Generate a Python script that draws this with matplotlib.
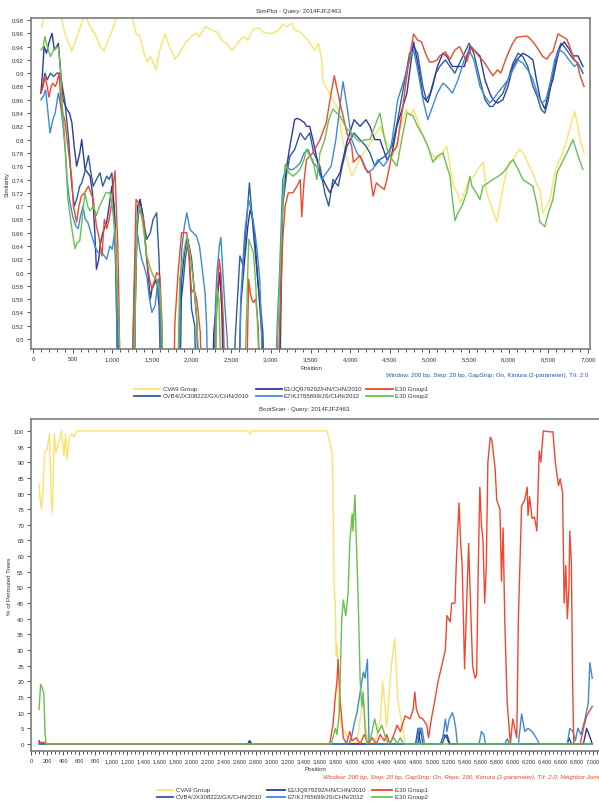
#############################################
##  SimPlot / BootScan  query 2014FJFZ463
#############################################
import matplotlib
matplotlib.use("Agg")
import matplotlib.pyplot as plt
from matplotlib.lines import Line2D
from matplotlib.ticker import MultipleLocator, FuncFormatter

plt.rcParams['font.family'] = ['Liberation Sans', 'DejaVu Sans']

seriesNames = ['CVA9 Group', 'CVB4/JX308222/GX/CHN/2010', 'E1/JQ979292/HN/CHN/2010',
               'E7/KJ765699/JS/CHN/2012', 'E30 Group1', 'E30 Group2']
seriesColors = ['#FBE26A', '#2E5E98', '#2F3A9A', '#3D8AD6', '#F0482E', '#6BBF4F']

# ---------------- SimPlot (similarity) ----------------
cva9SimPos = [110, 150, 200, 260, 340, 400, 450, 490, 540, 600, 655, 700, 750, 800, 850, 895, 950, 1000, 1070, 1150,
              1250, 1300, 1350, 1400, 1440, 1480, 1520, 1550, 1600, 1665, 1720, 1790, 1850, 1920, 2000, 2060, 2100,
              2170, 2250, 2320, 2380, 2440, 2510, 2580, 2650, 2710, 2775, 2850, 2900, 2960, 3030, 3100, 3150, 3200,
              3260, 3300, 3370, 3420, 3470, 3555, 3600, 3640, 3660, 3720, 3780, 3850, 3880, 3910, 3960, 4020, 4080,
              4140, 4210, 4280, 4330, 4380, 4440, 4490, 4540, 4600, 4660, 4710, 4760, 4800, 4860, 4920, 4980, 5040,
              5100, 5160, 5220, 5260, 5300, 5350, 5390, 5440, 5500, 5560, 5637, 5680, 5720, 5780, 5850, 5900, 5950,
              6000, 6060, 6100, 6140, 6200, 6260, 6305, 6360, 6393, 6430, 6480, 6520, 6580, 6608, 6680, 6734, 6800,
              6835, 6870, 6900, 6950]
cva9SimVal = [0.97, 0.99, 0.995, 0.99, 0.995, 0.96, 0.945, 0.933, 0.95, 0.97, 0.99, 0.975, 0.965, 0.955, 0.94, 0.933,
              0.95, 0.965, 0.99, 0.995, 0.985, 0.96, 0.955, 0.93, 0.917, 0.925, 0.915, 0.905, 0.935, 0.959, 0.94, 0.921,
              0.93, 0.945, 0.956, 0.96, 0.955, 0.97, 0.965, 0.962, 0.95, 0.945, 0.934, 0.945, 0.955, 0.95, 0.966, 0.968,
              0.962, 0.96, 0.96, 0.965, 0.974, 0.97, 0.975, 0.965, 0.962, 0.955, 0.95, 0.934, 0.945, 0.92, 0.887, 0.874,
              0.86, 0.846, 0.82, 0.797, 0.77, 0.745, 0.76, 0.775, 0.786, 0.80, 0.81, 0.82, 0.80, 0.79, 0.776, 0.80,
              0.83, 0.846, 0.835, 0.846, 0.825, 0.806, 0.79, 0.776, 0.77, 0.78, 0.79, 0.76, 0.73, 0.72, 0.705, 0.72,
              0.74, 0.745, 0.76, 0.766, 0.72, 0.70, 0.676, 0.71, 0.74, 0.766, 0.77, 0.78, 0.786, 0.776, 0.76, 0.75,
              0.73, 0.725, 0.69, 0.70, 0.71, 0.75, 0.76, 0.78, 0.80, 0.83, 0.842, 0.82, 0.80, 0.78]

cvb4SimPos = [100, 130, 150, 180, 220, 260, 300, 340, 370, 400, 450, 480, 490, 520, 550, 590, 615, 650, 700, 730, 760,
              800, 845, 880, 930, 960, 995, 1010, 1035, 1060, 1090, 1245, 1265, 1300, 1350, 1390, 1435, 1480, 1515,
              1560, 1590, 1615, 1640, 1830, 1850, 1890, 1920, 1960, 1980, 2000, 2040, 2060, 2280, 2300, 2330, 2360,
              2385, 2400, 2530, 2550, 2610, 2650, 2690, 2730, 2760, 2780, 2810, 2840, 2870, 2900, 2920, 3110, 3135,
              3150, 3200, 3240, 3300, 3370, 3430, 3490, 3540, 3619, 3680, 3730, 3783, 3850, 3900, 3960, 4050, 4124,
              4200, 4250, 4310, 4376, 4440, 4530, 4600, 4690, 4750, 4800, 4850, 4918, 4960, 5010, 5080, 5130, 5200,
              5260, 5320, 5380, 5440, 5500, 5560, 5637, 5700, 5760, 5801, 5860, 5927, 5990, 6053, 6120, 6179, 6240,
              6305, 6360, 6410, 6456, 6500, 6557, 6608, 6660, 6700, 6760, 6820, 6873, 6936]
cvb4SimVal = [0.87, 0.885, 0.90, 0.89, 0.90, 0.895, 0.90, 0.90, 0.88, 0.86, 0.80, 0.745, 0.73, 0.70, 0.71, 0.73, 0.735,
              0.75, 0.776, 0.75, 0.73, 0.74, 0.75, 0.73, 0.745, 0.74, 0.75, 0.72, 0.68, 0.58, 0.40, 0.40, 0.52, 0.65,
              0.71, 0.68, 0.65, 0.66, 0.68, 0.69, 0.62, 0.52, 0.40, 0.40, 0.54, 0.58, 0.62, 0.65, 0.60, 0.545, 0.52,
              0.40, 0.40, 0.53, 0.57, 0.60, 0.54, 0.40, 0.40, 0.50, 0.625, 0.61, 0.67, 0.735, 0.69, 0.66, 0.62, 0.58,
              0.55, 0.51, 0.40, 0.40, 0.60, 0.70, 0.75, 0.775, 0.785, 0.81, 0.80, 0.81, 0.78, 0.76, 0.72, 0.70, 0.74,
              0.73, 0.76, 0.79, 0.81, 0.80, 0.79, 0.78, 0.76, 0.77, 0.775, 0.79, 0.83, 0.89, 0.93, 0.94, 0.93, 0.88,
              0.86, 0.87, 0.90, 0.91, 0.92, 0.91, 0.90, 0.915, 0.93, 0.945, 0.93, 0.89, 0.86, 0.85, 0.85, 0.86, 0.87,
              0.89, 0.915, 0.93, 0.925, 0.91, 0.88, 0.865, 0.845, 0.84, 0.86, 0.90, 0.93, 0.945, 0.94, 0.93, 0.92,
              0.915, 0.90]

e1SimPos = [100, 120, 140, 170, 200, 240, 270, 300, 320, 350, 380, 425, 460, 490, 520, 550, 590, 615, 655, 690, 720,
            750, 780, 800, 830, 845, 880, 930, 960, 995, 1020, 1045, 1075, 1270, 1290, 1320, 1350, 1390, 1420, 1450,
            1480, 1500, 1560, 1590, 1620, 1850, 1875, 1910, 1940, 1970, 2000, 2030, 2065, 2090, 2260, 2280, 2320,
            2360, 2390, 2420, 2590, 2620, 2670, 2710, 2740, 2770, 2800, 2830, 2860, 2890, 2910, 3100, 3130, 3150,
            3200, 3240, 3300, 3330, 3370, 3420, 3450, 3490, 3530, 3619, 3700, 3745, 3800, 3871, 3960, 4050, 4124,
            4200, 4250, 4310, 4376, 4464, 4530, 4590, 4716, 4760, 4800, 4860, 4918, 4980, 5040, 5100, 5170, 5220,
            5290, 5360, 5440, 5510, 5560, 5637, 5700, 5760, 5801, 5860, 5927, 5990, 6053, 6100, 6179, 6240, 6305,
            6350, 6400, 6456, 6500, 6557, 6608, 6650, 6700, 6770, 6810, 6873, 6936]
e1SimVal = [0.87, 0.90, 0.94, 0.93, 0.945, 0.96, 0.935, 0.94, 0.945, 0.90, 0.86, 0.846, 0.84, 0.826, 0.79, 0.76, 0.78,
            0.80, 0.756, 0.75, 0.745, 0.72, 0.66, 0.605, 0.62, 0.64, 0.66, 0.676, 0.70, 0.73, 0.70, 0.60, 0.40, 0.40,
            0.55, 0.70, 0.71, 0.685, 0.64, 0.60, 0.56, 0.575, 0.59, 0.55, 0.40, 0.40, 0.59, 0.63, 0.65, 0.64, 0.62,
            0.58, 0.53, 0.40, 0.40, 0.51, 0.56, 0.60, 0.52, 0.40, 0.40, 0.55, 0.62, 0.67, 0.695, 0.68, 0.65, 0.60,
            0.55, 0.50, 0.40, 0.40, 0.62, 0.715, 0.76, 0.79, 0.83, 0.832, 0.83, 0.826, 0.82, 0.82, 0.80, 0.75, 0.73,
            0.72, 0.735, 0.75, 0.797, 0.83, 0.82, 0.83, 0.82, 0.80, 0.80, 0.77, 0.78, 0.82, 0.87, 0.91, 0.947, 0.91,
            0.865, 0.856, 0.88, 0.91, 0.93, 0.925, 0.91, 0.91, 0.91, 0.94, 0.935, 0.926, 0.89, 0.87, 0.86, 0.855,
            0.86, 0.88, 0.91, 0.92, 0.93, 0.926, 0.92, 0.89, 0.86, 0.846, 0.87, 0.89, 0.92, 0.94, 0.947, 0.935,
            0.926, 0.926, 0.91]

e7SimPos = [100, 130, 160, 190, 215, 250, 280, 320, 350, 380, 410, 430, 460, 500, 540, 570, 600, 630, 660, 690, 730,
            780, 820, 870, 930, 970, 1000, 1035, 1050, 1070, 1280, 1295, 1310, 1340, 1370, 1400, 1435, 1470, 1500,
            1540, 1580, 1600, 1620, 1840, 1860, 1875, 1910, 1940, 1980, 2020, 2060, 2100, 2140, 2170, 2190, 2210,
            2290, 2300, 2320, 2350, 2370, 2395, 2420, 2450, 2480, 2600, 2620, 2670, 2720, 2760, 2800, 2830, 2860,
            2880, 2900, 3050, 3080, 3110, 3150, 3200, 3240, 3280, 3330, 3370, 3420, 3470, 3530, 3580, 3640, 3700,
            3760, 3820, 3880, 3910, 3960, 4020, 4086, 4150, 4220, 4290, 4350, 4420, 4480, 4530, 4600, 4680, 4750,
            4800, 4860, 4918, 4980, 5040, 5100, 5170, 5220, 5290, 5360, 5440, 5500, 5560, 5637, 5700, 5760, 5801,
            5860, 5927, 5990, 6053, 6120, 6179, 6240, 6305, 6360, 6420, 6470, 6530, 6580, 6640, 6700, 6760, 6830,
            6873, 6936]
e7SimVal = [0.86, 0.865, 0.875, 0.84, 0.81, 0.83, 0.84, 0.87, 0.85, 0.82, 0.78, 0.74, 0.71, 0.685, 0.67, 0.666, 0.685,
            0.70, 0.68, 0.676, 0.66, 0.64, 0.63, 0.63, 0.62, 0.64, 0.635, 0.666, 0.59, 0.40, 0.40, 0.60, 0.665, 0.64,
            0.62, 0.61, 0.595, 0.56, 0.54, 0.55, 0.59, 0.55, 0.40, 0.40, 0.58, 0.635, 0.67, 0.69, 0.665, 0.66, 0.655,
            0.64, 0.60, 0.57, 0.52, 0.40, 0.40, 0.55, 0.60, 0.64, 0.653, 0.60, 0.55, 0.50, 0.40, 0.40, 0.56, 0.66,
            0.71, 0.69, 0.66, 0.63, 0.59, 0.52, 0.40, 0.40, 0.52, 0.60, 0.74, 0.76, 0.755, 0.755, 0.76, 0.765, 0.78,
            0.785, 0.765, 0.76, 0.74, 0.75, 0.76, 0.80, 0.86, 0.887, 0.85, 0.80, 0.78, 0.77, 0.75, 0.756, 0.77, 0.76,
            0.77, 0.80, 0.86, 0.89, 0.92, 0.935, 0.90, 0.86, 0.83, 0.85, 0.87, 0.885, 0.88, 0.87, 0.89, 0.92, 0.935,
            0.92, 0.88, 0.865, 0.855, 0.86, 0.87, 0.88, 0.89, 0.905, 0.92, 0.915, 0.905, 0.89, 0.87, 0.855, 0.86,
            0.89, 0.92, 0.935, 0.93, 0.92, 0.91, 0.915, 0.90]

e30g1SimPos = [100, 130, 150, 180, 200, 230, 250, 280, 300, 330, 345, 360, 400, 440, 490, 510, 550, 580, 610, 650,
               700, 760, 800, 830, 870, 900, 930, 960, 995, 1020, 1035, 1050, 1070, 1085, 1100, 1250, 1275, 1300,
               1330, 1350, 1390, 1435, 1470, 1500, 1560, 1600, 1625, 1645, 1770, 1790, 1830, 1875, 1940, 1970, 2000,
               2030, 2065, 2110, 2130, 2290, 2320, 2350, 2370, 2400, 2430, 2690, 2720, 2740, 2760, 2780, 2810, 2840,
               2870, 3080, 3120, 3150, 3180, 3220, 3280, 3330, 3370, 3390, 3420, 3450, 3530, 3620, 3700, 3760, 3800,
               3871, 3960, 4020, 4040, 4124, 4190, 4250, 4290, 4330, 4376, 4430, 4464, 4530, 4590, 4660, 4730, 4800,
               4850, 4900, 4950, 5000, 5044, 5100, 5130, 5200, 5260, 5322, 5380, 5420, 5470, 5530, 5560, 5620, 5680,
               5720, 5780, 5800, 5860, 5900, 5960, 6000, 6050, 6100, 6160, 6230, 6270, 6305, 6350, 6393, 6430, 6480,
               6530, 6557, 6600, 6620, 6680, 6734, 6780, 6830, 6860, 6900, 6950]
e30g1SimVal = [0.87, 0.88, 0.895, 0.88, 0.864, 0.88, 0.885, 0.88, 0.885, 0.90, 0.87, 0.846, 0.83, 0.79, 0.74, 0.70,
               0.676, 0.70, 0.715, 0.72, 0.73, 0.71, 0.67, 0.655, 0.625, 0.68, 0.666, 0.68, 0.706, 0.74, 0.753, 0.70,
               0.64, 0.55, 0.40, 0.40, 0.58, 0.71, 0.705, 0.69, 0.686, 0.62, 0.59, 0.575, 0.60, 0.595, 0.53, 0.40,
               0.40, 0.525, 0.60, 0.66, 0.66, 0.62, 0.57, 0.575, 0.56, 0.51, 0.40, 0.40, 0.56, 0.62, 0.60, 0.53, 0.40,
               0.40, 0.59, 0.57, 0.56, 0.555, 0.56, 0.52, 0.40, 0.40, 0.55, 0.65, 0.70, 0.72, 0.72, 0.73, 0.74, 0.684,
               0.74, 0.77, 0.78, 0.80, 0.826, 0.87, 0.896, 0.856, 0.81, 0.79, 0.766, 0.776, 0.756, 0.75, 0.715, 0.735,
               0.73, 0.725, 0.74, 0.78, 0.79, 0.846, 0.91, 0.959, 0.95, 0.947, 0.93, 0.917, 0.917, 0.92, 0.926, 0.932,
               0.921, 0.935, 0.94, 0.93, 0.917, 0.94, 0.935, 0.926, 0.918, 0.911, 0.90, 0.896, 0.905, 0.90, 0.92,
               0.932, 0.945, 0.954, 0.955, 0.956, 0.952, 0.947, 0.94, 0.932, 0.925, 0.921, 0.93, 0.932, 0.95, 0.959,
               0.955, 0.951, 0.936, 0.92, 0.917, 0.896, 0.88]

e30g2SimPos = [100, 130, 150, 180, 220, 260, 320, 350, 365, 400, 440, 490, 530, 560, 590, 620, 655, 690, 720, 760,
               800, 840, 880, 920, 970, 1000, 1035, 1060, 1090, 1110, 1260, 1290, 1310, 1340, 1370, 1400, 1435, 1470,
               1515, 1560, 1600, 1625, 1650, 1820, 1850, 1900, 1940, 1980, 2020, 2060, 2090, 2100, 2290, 2320, 2345,
               2365, 2380, 2660, 2700, 2720, 2750, 2780, 2810, 2840, 2860, 3060, 3100, 3150, 3180, 3230, 3280, 3330,
               3370, 3420, 3450, 3490, 3530, 3580, 3619, 3680, 3730, 3783, 3830, 3871, 3920, 3960, 4020, 4086, 4124,
               4190, 4250, 4310, 4376, 4420, 4464, 4530, 4590, 4650, 4716, 4792, 4850, 4918, 4980, 5044, 5100, 5170,
               5220, 5259, 5290, 5322, 5360, 5410, 5470, 5511, 5536, 5590, 5637, 5675, 5740, 5801, 5870, 5927, 5990,
               6053, 6120, 6179, 6240, 6305, 6360, 6393, 6456, 6500, 6557, 6608, 6670, 6734, 6810, 6873, 6936]
e30g2SimVal = [0.935, 0.94, 0.955, 0.94, 0.925, 0.935, 0.94, 0.90, 0.86, 0.80, 0.71, 0.666, 0.636, 0.645, 0.648, 0.68,
               0.72, 0.70, 0.693, 0.70, 0.686, 0.70, 0.71, 0.72, 0.72, 0.70, 0.66, 0.58, 0.50, 0.40, 0.40, 0.55, 0.676,
               0.70, 0.685, 0.66, 0.625, 0.61, 0.595, 0.59, 0.575, 0.52, 0.40, 0.40, 0.59, 0.63, 0.655, 0.63, 0.59,
               0.54, 0.47, 0.40, 0.40, 0.575, 0.56, 0.47, 0.40, 0.40, 0.56, 0.65, 0.64, 0.63, 0.58, 0.50, 0.40, 0.40,
               0.55, 0.70, 0.763, 0.75, 0.745, 0.75, 0.756, 0.77, 0.786, 0.775, 0.77, 0.74, 0.78, 0.80, 0.83, 0.846,
               0.84, 0.836, 0.825, 0.816, 0.81, 0.80, 0.797, 0.80, 0.80, 0.82, 0.84, 0.81, 0.786, 0.77, 0.76, 0.80,
               0.84, 0.836, 0.82, 0.806, 0.79, 0.766, 0.775, 0.78, 0.76, 0.745, 0.71, 0.678, 0.69, 0.70, 0.72, 0.745,
               0.73, 0.72, 0.71, 0.73, 0.735, 0.74, 0.745, 0.75, 0.76, 0.77, 0.755, 0.74, 0.735, 0.73, 0.70, 0.676,
               0.669, 0.69, 0.71, 0.75, 0.765, 0.78, 0.80, 0.776, 0.755]

# ---------------- BootScan (% of permuted trees) ----------------
cva9BootPos = [100, 115, 130, 150, 170, 200, 230, 250, 265, 290, 310, 340, 380, 410, 430, 450, 480, 510, 540, 570,
               2700, 2727, 2750, 3686, 3720, 3750, 3760, 3775, 3790, 3800, 3815, 3830, 3860, 3900, 3950, 4000, 4060,
               4100, 4140, 4170, 4200, 4250, 4300, 4350, 4380, 4430, 4490, 4530, 4570, 4620, 4640, 4660, 6990]
cva9BootVal = [83, 78, 75, 80.5, 93.6, 94, 99, 79, 74, 99, 93, 96, 100, 92, 99, 91, 98, 99, 98, 100,
               100, 99, 100, 100, 96.5, 93, 82, 50, 45, 28, 32, 12, 6, 4, 2, 0.5, 0,
               8, 15, 5, 1, 0, 2, 8, 20, 5.5, 25.5, 33.5, 14, 6, 3, 0, 0]

cvb4BootPos = [100, 2700, 2725, 2750, 4820, 4850, 4880, 5120, 5150, 5180, 5220, 6990]
cvb4BootVal = [0, 0, 1, 0, 0, 5, 0, 0, 2, 3, 0, 0]

e1BootPos = [100, 120, 2700, 2720, 2740, 4790, 4820, 4850, 5100, 5140, 5180, 5210, 6680, 6700, 6730, 6880, 6920,
             6950, 6990]
e1BootVal = [1, 0, 0, 1, 0, 0, 5, 0, 0, 3, 2, 0, 0, 2, 0, 0, 5, 3, 0]

e7BootPos = [100, 3960, 3990, 4030, 4060, 4100, 4140, 4160, 4190, 4210, 4800, 4830, 4870, 4900, 5100, 5130, 5160,
             5180, 5210, 5250, 5270, 5290, 5310, 5580, 5610, 5640, 5660, 5900, 5930, 5960, 6070, 6110, 6150, 6190,
             6240, 6300, 6330, 6680, 6710, 6750, 6780, 6810, 6850, 6900, 6940, 6960, 6990]
e7BootVal = [0, 0, 2, 7, 10, 16.6, 23, 21, 27, 0, 0, 5, 5, 0, 0, 2, 8, 4, 8, 10, 8, 5, 0, 0, 4, 3, 0, 0, 1.6, 0,
             0, 9.6, 4, 5, 4, 1.6, 0, 0, 5, 4, 1, 5, 3, 8, 13, 26, 21]

e30g1BootPos = [100, 180, 190, 3720, 3760, 3790, 3810, 3825, 3850, 3890, 3930, 3970, 4000, 4050, 4100, 4150, 4200,
                4250, 4300, 4350, 4400, 4430, 4470, 4520, 4560, 4600, 4660, 4720, 4760, 4780, 4800, 4840, 4880, 4930,
                4950, 4990, 5030, 5070, 5120, 5160, 5180, 5220, 5240, 5260, 5280, 5300, 5330, 5350, 5370, 5400, 5420,
                5450, 5480, 5500, 5530, 5550, 5570, 5590, 5610, 5630, 5650, 5670, 5690, 5720, 5740, 5780, 5800, 5840,
                5860, 5880, 5900, 5930, 5970, 6000, 6050, 6070, 6110, 6150, 6180, 6190, 6210, 6240, 6270, 6300, 6330,
                6350, 6380, 6460, 6500, 6530, 6570, 6590, 6620, 6640, 6660, 6680, 6700, 6710, 6730, 6745, 6760, 6840,
                6880, 6920, 6990]
e30g1BootVal = [0.5, 0.5, 0, 0, 6, 15, 20, 27, 14, 2, 0, 4, 1, 2, 0, 3, 0,
                2, 0, 3, 1, 3, 0, 3, 6, 4, 9, 8, 11, 16.6, 11, 8.5, 8, 6,
                2, 8.5, 14, 20, 25.5, 30, 41, 39, 45, 45, 45, 60, 77, 65, 57, 24, 40,
                64, 40, 25, 21, 22, 56, 82, 70, 64.5, 45, 56.6, 90, 98, 97, 88, 78, 75,
                52, 69, 40, 13.4, 0, 8, 2, 40, 76, 78, 82, 73, 79, 72, 72.5, 68, 93.6,
                90, 100, 99.7, 99.7, 90, 82.5, 84.7, 80.5, 45, 57, 40, 50, 68, 58, 20, 0, 0,
                5, 9, 12]

e30g2BootPos = [100, 120, 140, 160, 175, 190, 3740, 3770, 3790, 3810, 3840, 3870, 3890, 3920, 3950, 3970, 4000, 4010,
                4035, 4045, 4060, 4075, 4100, 4120, 4135, 4160, 4180, 4230, 4280, 4320, 4370, 4410, 4450, 4520, 4560,
                4600, 4640, 6990]
e30g2BootVal = [11, 19, 18, 16, 3, 0, 0, 3, 5, 3, 10, 40, 46, 41, 48.5, 64.5, 73.5, 68,
                79.5, 70, 59, 46, 20, 12, 16.6, 5, 0, 2, 8, 3.5, 6, 2.5, 0, 2, 0,
                2, 0, 0]

simData = [(cva9SimPos, cva9SimVal), (cvb4SimPos, cvb4SimVal), (e1SimPos, e1SimVal),
           (e7SimPos, e7SimVal), (e30g1SimPos, e30g1SimVal), (e30g2SimPos, e30g2SimVal)]
bootData = [(cva9BootPos, cva9BootVal), (cvb4BootPos, cvb4BootVal), (e1BootPos, e1BootVal),
            (e7BootPos, e7BootVal), (e30g1BootPos, e30g1BootVal), (e30g2BootPos, e30g2BootVal)]

W, H = 599, 804
fig = plt.figure(figsize=(W / 100, H / 100), dpi=100)

def figBox(left, top, right, bottom):
    # pixel box -> figure fraction
    return [left / W, 1 - bottom / H, (right - left) / W, (bottom - top) / H]

commaFmt = FuncFormatter(lambda v, p: '{:,.0f}'.format(v))
textSize = 4.4
textColor = '#333333'
spineColor = '#7a7a7a'

def styleAxes(ax, xSize):
    for s in ax.spines.values():
        s.set_color(spineColor)
        s.set_linewidth(1.2)
    ax.tick_params(which='both', direction='out', colors='#555555', labelcolor=textColor,
                   labelsize=textSize, width=0.7, pad=2)
    ax.tick_params(axis='x', labelsize=xSize)
    ax.tick_params(which='major', length=3)
    ax.tick_params(which='minor', length=1.8)

def drawLegend(y1, y2, cols):
    # cols : (lineStart, lineEnd, textX) in pixel
    rows = [y1, y2]
    for i, name in enumerate(seriesNames):
        c = cols[i // 2]
        y = rows[i % 2]
        fy = 1 - y / H
        fig.add_artist(Line2D([c[0] / W, c[1] / W], [fy, fy], color=seriesColors[i], lw=1.3,
                              transform=fig.transFigure))
        fig.text(c[2] / W, fy, name, fontsize=textSize, color=textColor, va='center', ha='left')

#---------------------
# SimPlot
#---------------------
axSim = fig.add_axes(figBox(31, 19, 590, 350))
for (xs, ys), col in zip(simData, seriesColors):
    axSim.plot(xs, ys, color=col, lw=1.0)
axSim.set_xlim(-25, 7025)
axSim.set_ylim(0.485, 0.983)
axSim.xaxis.set_major_locator(MultipleLocator(500))
axSim.xaxis.set_minor_locator(MultipleLocator(100))
axSim.xaxis.set_major_formatter(commaFmt)
axSim.yaxis.set_major_locator(MultipleLocator(0.02))
axSim.yaxis.set_major_formatter(FuncFormatter(lambda v, p: '{:g}'.format(round(v, 2))))
styleAxes(axSim, textSize)
axSim.set_xlabel('Position', fontsize=textSize, color=textColor)
axSim.xaxis.set_label_coords(280 / 559, -(366 - 350) / 331)
axSim.set_ylabel('Similarity', fontsize=textSize, color=textColor)
axSim.yaxis.set_label_coords(-(31 - 10) / 559, 0.5)
fig.text(299 / W, 1 - 11 / H, 'SimPlot - Query: 2014FJFZ463', fontsize=textSize, color=textColor,
         ha='center', va='center')
fig.text(588 / W, 1 - 375 / H, 'Window: 200 bp, Step: 20 bp, GapStrip: On, Kimura (2-parameter), T/t: 2.0',
         fontsize=textSize, color='#3050A8', ha='right', va='center')
drawLegend(390, 397, [(134, 160, 163), (256, 282, 284), (366, 393, 395)])

#---------------------
# BootScan
#---------------------
axBoot = fig.add_axes(figBox(31, 420, 599, 752))
for (xs, ys), col in zip(bootData, seriesColors):
    axBoot.plot(xs, ys, color=col, lw=1.0)
axBoot.set_xlim(0, 7074)
axBoot.set_ylim(-2.24, 103.8)
axBoot.xaxis.set_major_locator(MultipleLocator(200))
axBoot.xaxis.set_minor_locator(MultipleLocator(50))
axBoot.xaxis.set_major_formatter(commaFmt)
axBoot.yaxis.set_major_locator(MultipleLocator(5))
styleAxes(axBoot, 4.1)
axBoot.spines['right'].set_visible(False)
axBoot.set_xlabel('Position', fontsize=textSize, color=textColor)
axBoot.xaxis.set_label_coords((315 - 31) / 568, -(767 - 752) / 332)
axBoot.set_ylabel('% of Permuted Trees', fontsize=textSize, color=textColor)
axBoot.yaxis.set_label_coords(-(31 - 12) / 568, 0.5)
fig.text(304 / W, 1 - 410 / H, 'BootScan - Query: 2014FJFZ463', fontsize=textSize, color=textColor,
         ha='center', va='center')
fig.text(323 / W, 1 - 778 / H,
         'Window: 200 bp, Step: 20 bp, GapStrip: On, Reps: 100, Kimura (2-parameter), T/t: 2.0, Neighbor-Joining',
         fontsize=textSize, color='#E8412C', style='italic', ha='left', va='center')
drawLegend(791, 798, [(157, 173, 176), (267, 285, 287), (372, 392, 395)])

plt.savefig('out.png', dpi=100)
